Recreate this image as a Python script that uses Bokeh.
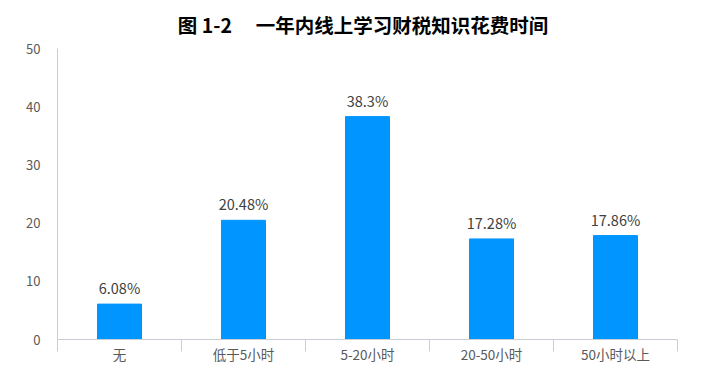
from bokeh.plotting import figure
from bokeh.models import FixedTicker, Range1d, ColumnDataSource, LabelSet, Title
from bokeh.core.properties import value
from bokeh.embed import file_html
from bokeh.resources import INLINE

categories = ["无", "低于5小时", "5-20小时", "20-50小时", "50小时以上"]
values = [6.08, 20.48, 38.3, 17.28, 17.86]
value_labels = ["6.08%", "20.48%", "38.3%", "17.28%", "17.86%"]
y_ticks = [0, 10, 20, 30, 40, 50]
title_text = "图 1-2\u3000 一年内线上学习财税知识花费时间\u00a0\u00a0"

FONT = "Noto Sans CJK SC"
xs = [i + 0.5 for i in range(len(categories))]

src = ColumnDataSource(dict(x=xs, top=values, lab=value_labels))

p = figure(width=695, height=366, output_backend="svg", toolbar_location=None,
           x_range=Range1d(0, len(categories)), y_range=Range1d(0, 50),
           min_border_left=57, min_border_right=18, min_border_bottom=26, min_border_top=48)
p.title = None
p.add_layout(Title(text=title_text, align="center", vertical_align="top", standoff=15,
                   text_font=FONT, text_font_size="19.5px", text_font_style="bold",
                   text_color="#000000"), "above")

p.vbar(x="x", top="top", width=0.355, bottom=0, source=src, color="#0095FF")
p.add_layout(LabelSet(x="x", y="top", text="lab", source=src, text_align="center",
                      text_baseline="bottom", y_offset=6, text_font=value(FONT),
                      text_font_size=value("14.5px"), text_color=value("#404040")))

p.xgrid.visible = False
p.ygrid.visible = False
p.outline_line_color = None

xa = p.xaxis[0]
xa.ticker = FixedTicker(ticks=xs, minor_ticks=list(range(len(categories) + 1)))
xa.major_label_overrides = {x: c for x, c in zip(xs, categories)}
xa.major_tick_line_color = None
xa.major_tick_out = 0
xa.major_tick_in = 0
xa.minor_tick_in = 0
xa.minor_tick_out = 12
xa.minor_tick_line_color = "#C8CDD6"
xa.axis_line_color = "#C8CDD6"
xa.major_label_text_font = FONT
xa.major_label_text_font_size = "13.5px"
xa.major_label_text_color = "#595959"
xa.major_label_standoff = -8

ya = p.yaxis[0]
ya.ticker = FixedTicker(ticks=y_ticks)
ya.major_tick_line_color = None
ya.major_tick_out = 0
ya.major_tick_in = 0
ya.minor_tick_line_color = None
ya.axis_line_color = "#C8CDD6"
ya.major_label_text_font = FONT
ya.major_label_text_font_size = "13px"
ya.major_label_text_color = "#595959"
ya.major_label_standoff = 17

open("out.html", "w").write(file_html(p, INLINE))
